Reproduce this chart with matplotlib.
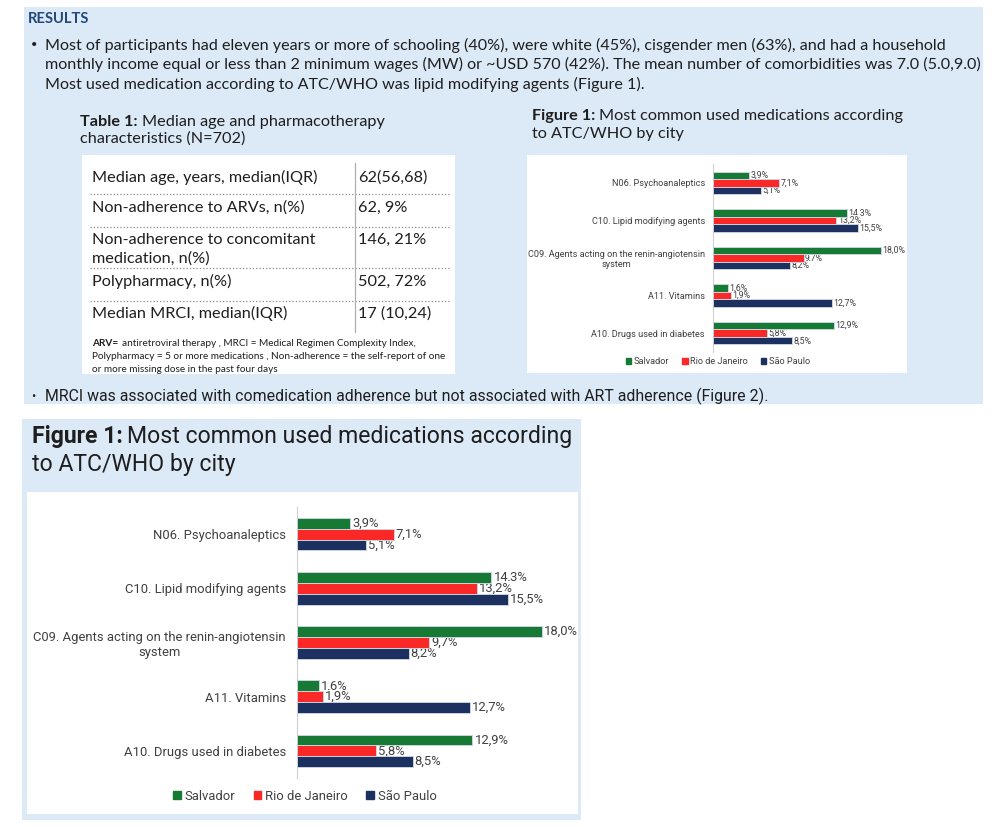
import matplotlib
matplotlib.use("Agg")
import matplotlib.pyplot as plt
from matplotlib.patches import Rectangle, Patch
from matplotlib.lines import Line2D
import numpy as np

# data
categories = ["N06. Psychoanaleptics", "C10. Lipid modifying agents",
              "C09. Agents acting on the renin-angiotensin\nsystem",
              "A11. Vitamins", "A10. Drugs used in diabetes"]
cities = ["Salvador", "Rio de Janeiro", "São Paulo"]
salvador = [3.9, 14.3, 18.0, 1.6, 12.9]
rio = [7.1, 13.2, 9.7, 1.9, 5.8]
sao_paulo = [5.1, 15.5, 8.2, 12.7, 8.5]

table_rows = ["Median age, years, median(IQR)", "Non-adherence to ARVs, n(%)",
              "Non-adherence to concomitant\nmedication, n(%)", "Polypharmacy, n(%)",
              "Median MRCI, median(IQR)"]
table_vals = ["62(56,68)", "62, 9%", "146, 21%", "502, 72%", "17 (10,24)"]

para1 = ["Most of participants had eleven years or more of schooling (40%), were white (45%), cisgender men (63%), and had a household",
         "monthly income equal or less than 2 minimum wages (MW) or ~USD 570 (42%). The mean number of comorbidities was 7.0 (5.0,9.0)",
         "Most used medication according to ATC/WHO was lipid modifying agents (Figure 1)."]
para2 = "MRCI was associated with comedication adherence but not associated with ART adherence (Figure 2)."
footnote = ["ARV= antiretroviral therapy , MRCI = Medical Regimen Complexity Index,",
            "Polypharmacy = 5 or more medications , Non-adherence = the self-report of one",
            "or more missing dose in the past four days"]

colors = ["#177a34", "#fb2828", "#1c3160"]
BLUE_BG = "#dce9f7"
TXT = "#1e1e1e"
GREY = "#404040"
TOPFONT = ["Lato", "DejaVu Sans"]
NARROW = ["Roboto", "DejaVu Sans"]

W, H = 998, 827
fig = plt.figure(figsize=(W / 100, H / 100), dpi=100)
renderer = fig.canvas.get_renderer()


def fx(x):
    return x / W


def fy(y):
    return 1 - y / H


def box(x0, y0, x1, y1, color, z):
    fig.add_artist(Rectangle((fx(x0), fy(y1)), (x1 - x0) / W, (y1 - y0) / H,
                             transform=fig.transFigure, facecolor=color,
                             edgecolor="none", zorder=z))


def fit_size(s, width, **kw):
    # font size that makes s about `width` pixels wide
    t = fig.text(0, 0, s, fontsize=10, **kw)
    w = t.get_window_extent(renderer).width
    t.remove()
    return 10 * width / w


def put(x, y, s, size, **kw):
    kw.setdefault("color", TXT)
    kw.setdefault("va", "baseline")
    return fig.text(fx(x), fy(y), s, fontsize=size, **kw)


def bold_then(x, y, b, rest, size, family):
    t = put(x, y, b, size, fontweight="bold", family=family)
    bb = t.get_window_extent(renderer)
    put(bb.x1 + 4, y, rest, size, family=family)


# panels
box(24, 7, 983, 404, BLUE_BG, -3)
box(82, 155, 455, 374, "white", -2)
box(527, 155, 907, 373, "white", -2)
box(22, 419, 581, 820, BLUE_BG, -3)
box(27, 492, 578, 814, "white", -2)

# top texts
put(28, 23, "RESULTS", fit_size("RESULTS", 62, fontweight="bold", family=TOPFONT),
    fontweight="bold", color="#23487c", family=TOPFONT)
psize = fit_size(para1[1], 936, family=TOPFONT)
put(31, 48, "•", psize * 0.7, family=TOPFONT)
for i, line in enumerate(para1):
    put(45, 50 + i * 19.5, line, psize, family=TOPFONT)

tsize = fit_size("Table 1: Median age and pharmacotherapy", 304, family=TOPFONT)
bold_then(80, 126, "Table 1:", "Median age and pharmacotherapy", tsize, TOPFONT)
put(80, 143, "characteristics (N=702)", tsize, family=TOPFONT)
bold_then(532, 120, "Figure 1:", "Most common used medications according", tsize, TOPFONT)
put(532, 138, "to ATC/WHO by city", tsize, family=TOPFONT)

# table
rsize = fit_size(table_rows[0], 225, family=TOPFONT)
row_base = [182, 212, 244, 286, 318]
for r, v, yb in zip(table_rows, table_vals, row_base):
    for k, part in enumerate(r.split("\n")):
        put(92, yb + k * 19, part, rsize, family=TOPFONT)
    put(358, yb, v, rsize, family=TOPFONT)
for ys in [194, 227, 268, 301]:
    fig.add_artist(Line2D([fx(90), fx(450)], [fy(ys), fy(ys)], transform=fig.transFigure,
                          color="#8a8a8a", lw=0.9, ls=":"))
fig.add_artist(Line2D([fx(355), fx(355)], [fy(163), fy(332)], transform=fig.transFigure,
                      color="#b0b0b0", lw=0.9))
fsize = fit_size(footnote[1], 355, family=TOPFONT)
for i, line in enumerate(footnote):
    if i == 0:
        bold_then(92, 346, "ARV=", line[5:], fsize, TOPFONT)
    else:
        put(92, 346 + i * 13, line, fsize, family=TOPFONT)

# second bullet and bottom title
bsize = fit_size(para2, 720, family=NARROW)
put(31, 400, "•", bsize * 0.8, family=NARROW)
put(45, 401, para2, bsize, family=NARROW)
ttl = fit_size("Figure 1: Most common used medications according", 538, family=NARROW)
bold_then(32, 443, "Figure 1:", "Most common used medications according", ttl, NARROW)
put(32, 471, "to ATC/WHO by city", ttl, family=NARROW)


def draw_chart(rect, lab_w, val_w, pad, leg_xy):
    l, t, r, b = rect
    lab_size = fit_size(categories[2].split("\n")[0], lab_w, family=NARROW)
    val_size = fit_size("18,0%", val_w, family=NARROW)
    ax = fig.add_axes([fx(l), fy(b), (r - l) / W, (b - t) / H])
    ax.patch.set_visible(False)
    y = np.arange(len(categories))
    for i, (vals, c) in enumerate(zip([salvador, rio, sao_paulo], colors)):
        pos = y + (i - 1) * 0.2
        ax.barh(pos, vals, height=0.2, color=c, edgecolor="#c9d3de", lw=0.7, zorder=3)
        for p, v in zip(pos, vals):
            ax.text(v + 0.15, p, f"{v:.1f}".replace(".", ",") + "%", va="center", ha="left",
                    fontsize=val_size, color=GREY, family=NARROW, zorder=2,
                    bbox=dict(fc="white", ec="none", pad=0.3))
    ax.set_xlim(0, 20)
    ax.set_ylim(len(categories) - 0.5, -0.5)
    ax.set_yticks(y)
    ax.set_yticklabels(categories, fontsize=lab_size, color=GREY, family=NARROW)
    for lab in ax.get_yticklabels():
        lab.set_multialignment("center")
    ax.tick_params(axis="y", length=0, pad=pad)
    ax.set_xticks([])
    for s in ["top", "right", "bottom"]:
        ax.spines[s].set_visible(False)
    ax.spines["left"].set_color("#d0d0d0")
    handles = [Patch(color=c) for c in colors]
    ax.legend(handles, cities, loc="center", bbox_to_anchor=(fx(leg_xy[0]), fy(leg_xy[1])),
              bbox_transform=fig.transFigure, ncol=3, frameon=False,
              prop={"family": NARROW, "size": lab_size}, labelcolor=GREY,
              handlelength=0.6, handleheight=0.6, handletextpad=0.3, columnspacing=1.4)


draw_chart((713, 164, 900, 352), 176, 23, 5.8, (718, 362))
draw_chart((297, 507, 569, 778), 252, 34, 8, (305, 796))

fig.savefig("out.png", dpi=100)
